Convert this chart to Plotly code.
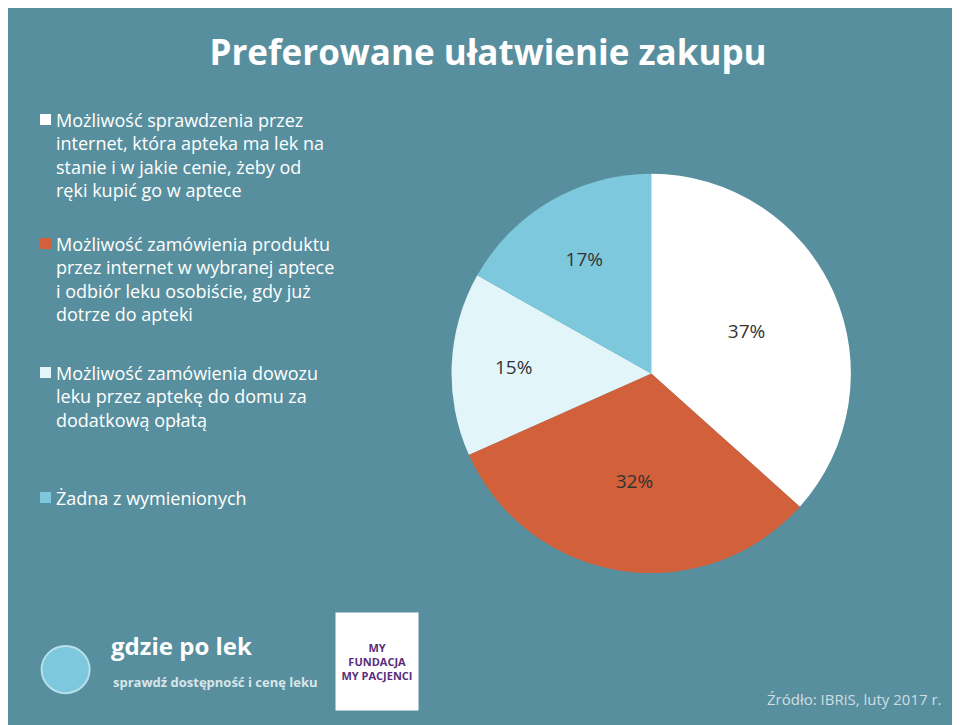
import plotly.graph_objects as go

labels = [
    "Możliwość sprawdzenia przez<br>internet, która apteka ma lek na<br>stanie i w jakie cenie, żeby od<br>ręki kupić go w aptece",
    "Możliwość zamówienia produktu<br>przez internet w wybranej aptece<br>i odbiór leku osobiście, gdy już<br>dotrze do apteki",
    "Możliwość zamówienia dowozu<br>leku przez aptekę do domu za<br>dodatkową opłatą",
    "Żadna z wymienionych",
]
values = [37, 32, 15, 17]
colors = ["#ffffff", "#d2603a", "#e2f6fa", "#7ec8dd"]
legend_tops = [98, 222, 351, 476]  # pixel rows of legend entries

W, H = 960, 725

fig = go.Figure(go.Pie(
    labels=labels, values=values, sort=False, direction="clockwise", rotation=0,
    marker=dict(colors=colors, line=dict(color="#588f9e", width=0)),
    texttemplate="%{value}%", textposition="inside", insidetextorientation="horizontal",
    textfont=dict(size=19, color="#333333", family="Open Sans"),
    domain=dict(x=[0.462, 0.878], y=[0.22, 0.772]),
    hoverinfo="label+percent", showlegend=False,
))

annotations = [
    dict(text="<b>gdzie po lek</b>", x=0.105, y=0.095, xref="paper", yref="paper",
         xanchor="left", showarrow=False, font=dict(size=24, color="white")),
    dict(text="<b>sprawdź dostępność i cenę leku</b>", x=0.107, y=0.055, xref="paper", yref="paper",
         xanchor="left", showarrow=False, font=dict(size=13, color="#d8e6ea")),
    dict(text="<b>MY</b><br><b>FUNDACJA<br>MY PACJENCI</b>", x=0.384, y=0.03, xref="paper", yref="paper",
         xanchor="center", yanchor="bottom", showarrow=False, bgcolor="white",
         width=80, height=95, font=dict(size=11, color="#5a2d7c")),
    dict(text="Źródło: IBRiS, luty 2017 r.", x=0.975, y=0.03, xref="paper", yref="paper",
         xanchor="right", showarrow=False, font=dict(size=15, color="#d0dde1")),
]
shapes = [dict(type="circle", xref="paper", yref="paper", x0=0.035, y0=0.055, x1=0.085, y1=0.12,
               fillcolor="#7ec8dd", line=dict(color="#b7e0ea", width=2))]

for lab, col, top in zip(labels, colors, legend_tops):
    annotations.append(dict(text=lab, x=46 / W, y=1 - top / H, xref="paper", yref="paper",
                            xanchor="left", yanchor="top", align="left", showarrow=False,
                            font=dict(size=18, color="white", family="Open Sans")))
    shapes.append(dict(type="rect", xref="paper", yref="paper",
                       x0=32 / W, x1=43 / W, y0=1 - (top + 19) / H, y1=1 - (top + 8) / H,
                       fillcolor=col, line=dict(width=0)))

fig.update_layout(
    width=W, height=H, margin=dict(l=0, r=0, t=0, b=0),
    paper_bgcolor="#588f9e", plot_bgcolor="#588f9e",
    font=dict(family="Open Sans", color="white"),
    title=dict(text="<b>Preferowane ułatwienie zakupu</b>", x=0.5, y=0.955, yanchor="top",
               xanchor="center", font=dict(size=35, color="white")),
    annotations=annotations, shapes=shapes,
)

fig.write_html("out.html")
